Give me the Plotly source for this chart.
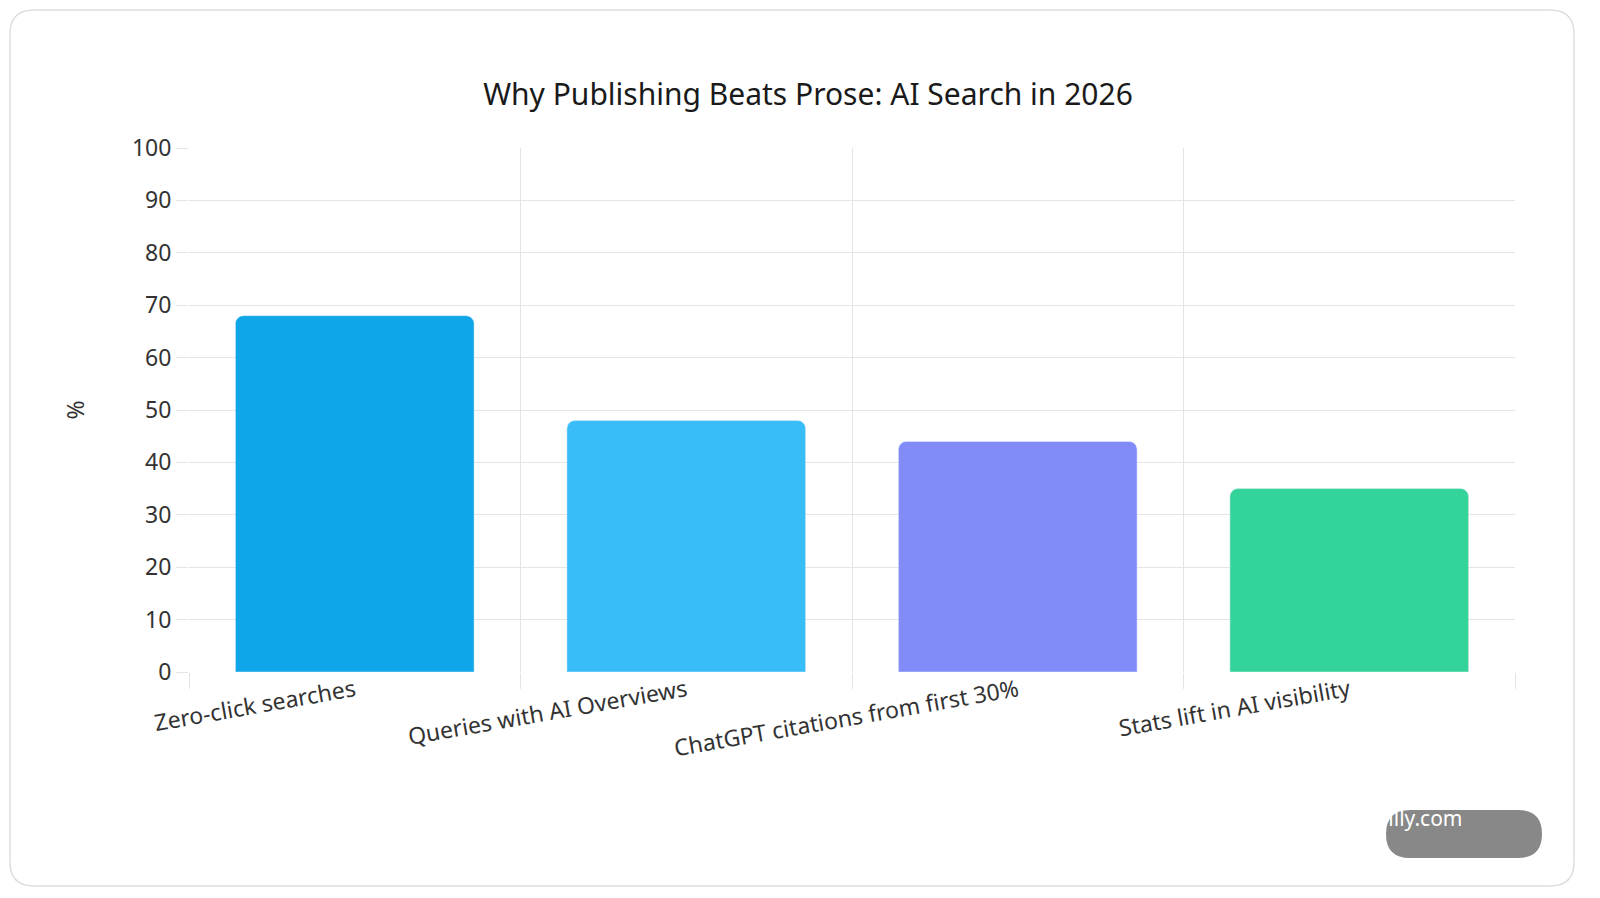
import plotly.graph_objects as go

categories = ["Zero-click searches", "Queries with AI Overviews",
              "ChatGPT citations from first 30%", "Stats lift in AI visibility"]
values = [68, 48, 44, 35]
colors = ["#0EA5E9", "#38BDF8", "#818CF8", "#34D399"]

W, H = 1600, 898
L, R, T, B = 181, 93, 140, 234
pw, ph = W - L - R, H - T - B


def px(x, y):
    # pixel -> paper coordinates
    return (x - L) / pw, 1 - (y - T) / ph


def rounded(x0, y0, x1, y1, r):
    pts = []
    a = px(x0 + r, y0); pts.append(f"M{a[0]},{a[1]}")
    for (lx, ly), (cx, cy), (ex, ey) in [
        ((x1 - r, y0), (x1, y0), (x1, y0 + r)),
        ((x1, y1 - r), (x1, y1), (x1 - r, y1)),
        ((x0 + r, y1), (x0, y1), (x0, y1 - r)),
        ((x0, y0 + r), (x0, y0), (x0 + r, y0)),
    ]:
        p = px(lx, ly); c = px(cx, cy); e = px(ex, ey)
        pts.append(f"L{p[0]},{p[1]} Q{c[0]},{c[1]} {e[0]},{e[1]}")
    return " ".join(pts) + " Z"


fig = go.Figure()
fig.add_trace(go.Bar(x=categories, y=values, marker=dict(color=colors, cornerradius=8),
                     width=0.72, showlegend=False))
fig.add_trace(go.Scatter(x=[0, 4], y=[0, 0], xaxis="x2", mode="none", showlegend=False,
                         hoverinfo="skip"))

fig.update_layout(
    width=W, height=H,
    margin=dict(l=L, r=R, t=T, b=B),
    paper_bgcolor="white", plot_bgcolor="white",
    font=dict(family="Noto Sans, Open Sans, sans-serif", color="#222"),
    title=dict(text="Why Publishing Beats Prose: AI Search in 2026", x=0.5, xanchor="center",
               y=1 - 86 / H, yanchor="middle", font=dict(size=30, color="#1a1a1a")),
    bargap=0.28,
    xaxis=dict(type="category", range=[-0.5, 3.5], showgrid=False, tickangle=-10,
               tickfont=dict(size=23, color="#333"), ticks="", showline=False, zeroline=False),
    xaxis2=dict(overlaying="x", range=[0, 4], dtick=1, showgrid=True, gridcolor="#e5e5e5",
                showticklabels=False, ticks="outside", ticklen=16, tickcolor="#e5e5e5",
                zeroline=False, side="bottom"),
    yaxis=dict(range=[0, 100], dtick=10, gridcolor="#e5e5e5", zeroline=False,
               ticks="outside", ticklen=12, tickcolor="#e5e5e5",
               tickfont=dict(size=23, color="#333"),
               title=dict(text="%", font=dict(size=23, color="#333"), standoff=40)),
    shapes=[
        dict(type="path", xref="paper", yref="paper", path=rounded(2, 2, 1566, 878, 24),
             line=dict(color="#dddddd", width=1.5), fillcolor="rgba(0,0,0,0)", layer="below"),
        dict(type="path", xref="paper", yref="paper", path=rounded(1378, 802, 1534, 850, 24),
             line=dict(width=0), fillcolor="#888888", layer="above"),
    ],
    annotations=[dict(text="quillly.com", xref="paper", yref="paper",
                      x=px(1456, 826)[0], y=px(1456, 826)[1], showarrow=False,
                      font=dict(size=21, color="white"))],
)

fig.write_html("out.html")
